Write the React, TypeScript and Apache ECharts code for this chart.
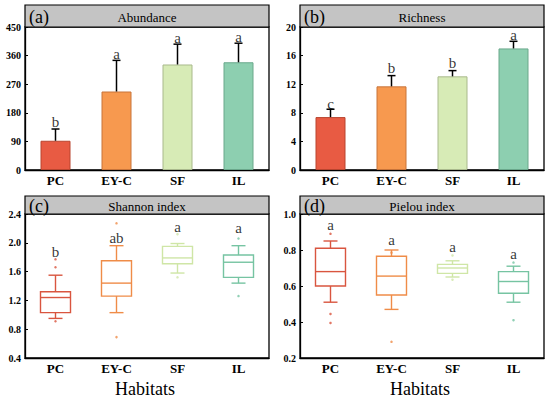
import React, { useEffect, useRef } from "react";
import * as echarts from "echarts";

const categories = ["PC", "EY-C", "SF", "IL"];
const colors = ["#e85b43", "#f7994f", "#d7ebb6", "#8dcfb0"];
const borderColors = ["#b9452f", "#c8743a", "#a9b98c", "#6aa88b"];
const boxColors = ["#d9553f", "#ef8c48", "#cfe6a6", "#76c4a2"];

// (a) Abundance
const abundanceMean = [92, 247, 332, 339];
const abundanceErrTop = [129, 345, 396, 399];
const abundanceLetters = ["b", "a", "a", "a"];
const abundanceLetterY = [152, 364, 414, 419];

// (b) Richness
const richnessMean = [7.4, 11.7, 13.1, 17.0];
const richnessErrTop = [8.5, 13.2, 13.9, 18.0];
const richnessLetters = ["c", "b", "b", "a"];
const richnessLetterY = [9.2, 14.2, 15.0, 18.9];

// (c) Shannon: [min, Q1, median, Q3, max]
const shannonBox = [
  [0.95, 1.03, 1.24, 1.32, 1.55],
  [1.03, 1.26, 1.44, 1.75, 1.96],
  [1.58, 1.71, 1.79, 1.95, 1.99],
  [1.44, 1.52, 1.73, 1.83, 1.96],
];
const shannonOutliers = [
  [0, 1.66], [0, 1.77], [0, 0.91],
  [1, 2.27], [1, 0.69],
  [2, 2.12], [2, 1.52],
  [3, 2.06], [3, 1.26],
];
const shannonLetters = ["b", "ab", "a", "a"];
const shannonLetterY = [1.87, 2.07, 2.22, 2.21];

// (d) Pielou: [min, Q1, median, Q3, max]
const pielouBox = [
  [0.51, 0.6, 0.68, 0.81, 0.85],
  [0.47, 0.55, 0.655, 0.765, 0.8],
  [0.65, 0.67, 0.70, 0.72, 0.74],
  [0.51, 0.56, 0.625, 0.68, 0.71],
];
const pielouOutliers = [
  [0, 0.89], [0, 0.445], [0, 0.395],
  [1, 0.785], [1, 0.29],
  [2, 0.77], [2, 0.635],
  [3, 0.73], [3, 0.41],
];
const pielouLetters = ["a", "a", "a", "a"];
const pielouLetterY = [0.94, 0.855, 0.817, 0.777];

const panelTitles = ["Abundance", "Richness", "Shannon index", "Pielou index"];
const panelTags = ["(a)", "(b)", "(c)", "(d)"];
const xTitle = "Habitats";

const FONT = "Liberation Serif";

const grids = [
  { left: 25, top: 27, width: 244, height: 143 },
  { left: 300, top: 27, width: 244, height: 143 },
  { left: 25, top: 214, width: 244, height: 144 },
  { left: 300, top: 214, width: 244, height: 144 },
];
const stripTops = [5, 5, 196, 196];

const yRanges = [
  { min: 0, max: 450, interval: 90 },
  { min: 0, max: 20, interval: 4 },
  { min: 0.4, max: 2.4, interval: 0.4 },
  { min: 0.2, max: 1.0, interval: 0.2 },
];

function errorBarRender(params: any, api: any) {
  const x = api.value(0);
  const top = api.coord([x, api.value(2)]);
  const base = api.coord([x, api.value(1)]);
  const half = 4;
  return {
    type: "group",
    children: [
      { type: "line", shape: { x1: top[0], y1: base[1], x2: top[0], y2: top[1] }, style: { stroke: "#000", lineWidth: 1.5 } },
      { type: "line", shape: { x1: top[0] - half, y1: top[1], x2: top[0] + half, y2: top[1] }, style: { stroke: "#000", lineWidth: 1.5 } },
    ],
  };
}

function boxRender(params: any, api: any) {
  const x = api.value(0);
  const idx = params.dataIndex;
  const color = boxColors[idx];
  const pMin = api.coord([x, api.value(1)]);
  const pQ1 = api.coord([x, api.value(2)]);
  const pMed = api.coord([x, api.value(3)]);
  const pQ3 = api.coord([x, api.value(4)]);
  const pMax = api.coord([x, api.value(5)]);
  const cx = pMed[0];
  const hw = 15;
  const cap = 7;
  const st = { stroke: color, lineWidth: 1.4, fill: "none" };
  return {
    type: "group",
    children: [
      { type: "rect", shape: { x: cx - hw, y: pQ3[1], width: hw * 2, height: pQ1[1] - pQ3[1] }, style: { ...st, fill: "transparent" } },
      { type: "line", shape: { x1: cx - hw, y1: pMed[1], x2: cx + hw, y2: pMed[1] }, style: st },
      { type: "line", shape: { x1: cx, y1: pQ3[1], x2: cx, y2: pMax[1] }, style: st },
      { type: "line", shape: { x1: cx, y1: pQ1[1], x2: cx, y2: pMin[1] }, style: st },
      { type: "line", shape: { x1: cx - cap, y1: pMax[1], x2: cx + cap, y2: pMax[1] }, style: st },
      { type: "line", shape: { x1: cx - cap, y1: pMin[1], x2: cx + cap, y2: pMin[1] }, style: st },
    ],
  };
}

function letterSeries(axisIdx: number, letters: string[], ys: number[]) {
  return {
    type: "scatter",
    xAxisIndex: axisIdx,
    yAxisIndex: axisIdx,
    symbolSize: 0,
    silent: true,
    data: letters.map((l, i) => ({ value: [i, ys[i]], name: l })),
    label: {
      show: true,
      position: "inside",
      formatter: (p: any) => p.name,
      color: "#000",
      fontFamily: FONT,
      fontSize: 15,
    },
  };
}

export default function App() {
  const ref = useRef<HTMLDivElement>(null);
  useEffect(() => {
    if (!ref.current) return;
    const chart = echarts.init(ref.current, undefined, { renderer: "svg" });

    const graphics: any[] = [];
    grids.forEach((g, i) => {
      const h = g.top - stripTops[i];
      graphics.push({
        type: "rect",
        shape: { x: g.left, y: stripTops[i], width: g.width, height: h },
        style: { fill: "#c4c4c4", stroke: "#000", lineWidth: 1.2 },
        z: 10,
      });
      graphics.push({
        type: "text",
        x: g.left + 4,
        y: stripTops[i] + h / 2 + 1,
        style: { text: panelTags[i], fontFamily: FONT, fontSize: 18, fill: "#000", verticalAlign: "middle" },
        z: 11,
      });
      graphics.push({
        type: "text",
        x: g.left + g.width / 2,
        y: stripTops[i] + h / 2 + 1,
        style: { text: panelTitles[i], fontFamily: FONT, fontSize: 13, fill: "#000", align: "center", verticalAlign: "middle" },
        z: 11,
      });
    });
    [2, 3].forEach((i) => {
      const g = grids[i];
      graphics.push({
        type: "text",
        x: g.left + g.width / 2 - 2,
        y: 389,
        style: { text: xTitle, fontFamily: FONT, fontSize: 18, fill: "#000", align: "center", verticalAlign: "middle" },
      });
    });

    const option: any = {
      animation: false,
      backgroundColor: "#fff",
      textStyle: { fontFamily: FONT },
      grid: grids.map((g) => ({ ...g, show: true, borderColor: "#000", borderWidth: 1.3, backgroundColor: "transparent" })),
      xAxis: grids.map((_, i) => ({
        type: "category",
        gridIndex: i,
        data: categories,
        axisLine: { lineStyle: { color: "#000", width: 1.3 } },
        axisTick: { alignWithLabel: true, length: 3, lineStyle: { color: "#000" } },
        axisLabel: { color: "#000", fontFamily: FONT, fontWeight: "bold", fontSize: 13, margin: 4 },
      })),
      yAxis: grids.map((_, i) => ({
        type: "value",
        gridIndex: i,
        min: yRanges[i].min,
        max: yRanges[i].max,
        interval: yRanges[i].interval,
        splitLine: { show: false },
        axisLine: { show: true, lineStyle: { color: "#000", width: 1.3 } },
        axisTick: { show: true, inside: true, length: 3, lineStyle: { color: "#000" } },
        axisLabel: {
          color: "#000",
          fontFamily: FONT,
          fontWeight: "bold",
          fontSize: 10,
          margin: 4,
          formatter: (v: number) => (i >= 2 ? v.toFixed(1) : String(v)),
        },
      })),
      graphic: graphics,
      series: [
        {
          type: "bar",
          xAxisIndex: 0,
          yAxisIndex: 0,
          barWidth: 30,
          data: abundanceMean.map((v, i) => ({ value: v, itemStyle: { color: colors[i], borderColor: borderColors[i], borderWidth: 1 } })),
        },
        {
          type: "custom",
          xAxisIndex: 0,
          yAxisIndex: 0,
          renderItem: errorBarRender,
          data: abundanceMean.map((v, i) => [i, v, abundanceErrTop[i]]),
          z: 3,
        },
        letterSeries(0, abundanceLetters, abundanceLetterY),
        {
          type: "bar",
          xAxisIndex: 1,
          yAxisIndex: 1,
          barWidth: 30,
          data: richnessMean.map((v, i) => ({ value: v, itemStyle: { color: colors[i], borderColor: borderColors[i], borderWidth: 1 } })),
        },
        {
          type: "custom",
          xAxisIndex: 1,
          yAxisIndex: 1,
          renderItem: errorBarRender,
          data: richnessMean.map((v, i) => [i, v, richnessErrTop[i]]),
          z: 3,
        },
        letterSeries(1, richnessLetters, richnessLetterY),
        {
          type: "custom",
          xAxisIndex: 2,
          yAxisIndex: 2,
          renderItem: boxRender,
          encode: { x: 0, y: [1, 2, 3, 4, 5] },
          data: shannonBox.map((b, i) => [i, ...b]),
        },
        {
          type: "scatter",
          xAxisIndex: 2,
          yAxisIndex: 2,
          symbolSize: 2.5,
          data: shannonOutliers.map((o) => ({ value: o, itemStyle: { color: boxColors[o[0]] } })),
        },
        letterSeries(2, shannonLetters, shannonLetterY),
        {
          type: "custom",
          xAxisIndex: 3,
          yAxisIndex: 3,
          renderItem: boxRender,
          encode: { x: 0, y: [1, 2, 3, 4, 5] },
          data: pielouBox.map((b, i) => [i, ...b]),
        },
        {
          type: "scatter",
          xAxisIndex: 3,
          yAxisIndex: 3,
          symbolSize: 2.5,
          data: pielouOutliers.map((o) => ({ value: o, itemStyle: { color: boxColors[o[0]] } })),
        },
        letterSeries(3, pielouLetters, pielouLetterY),
      ],
    };
    chart.setOption(option);
    return () => chart.dispose();
  }, []);
  return <div ref={ref} style={{ position: "fixed", left: 0, top: 0, width: 550, height: 399 }} />;
}
